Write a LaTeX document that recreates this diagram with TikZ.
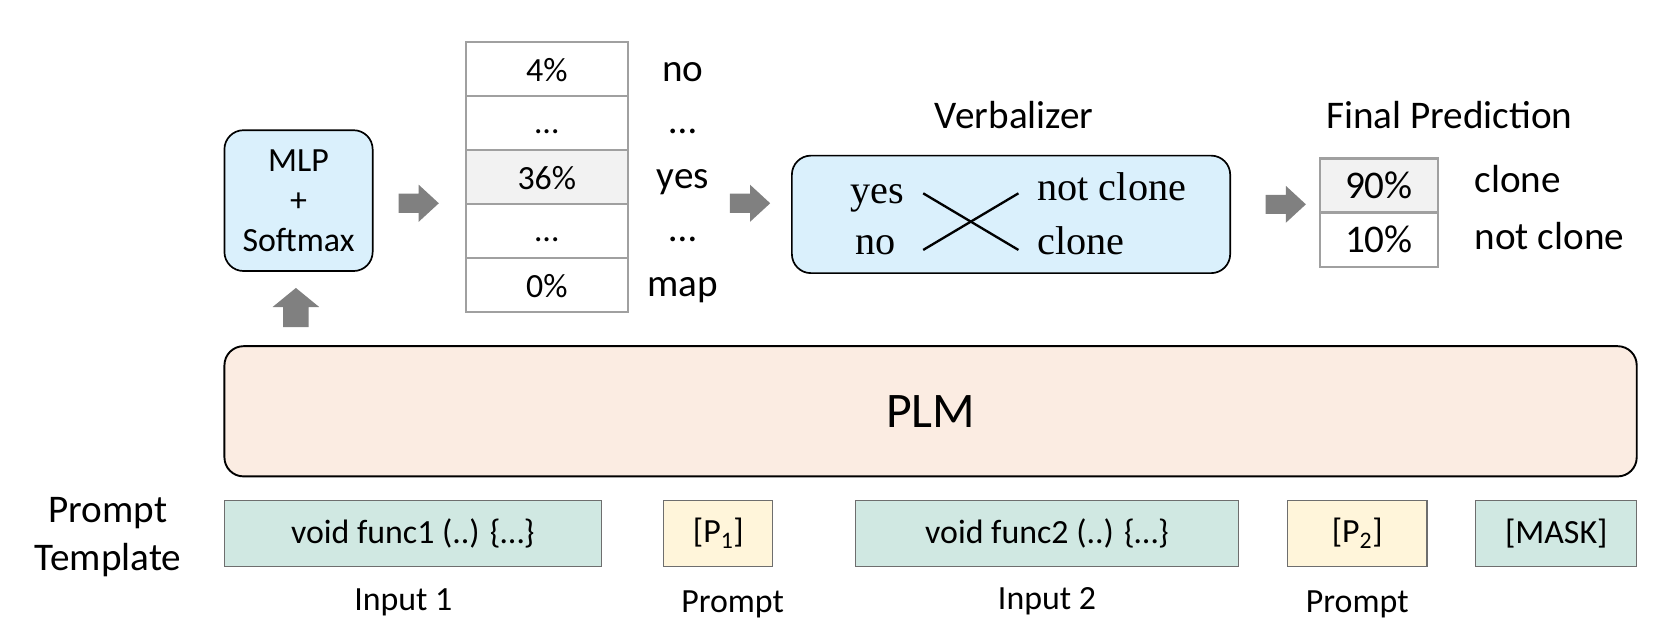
\documentclass[tikz,border=0pt]{standalone}
\usepackage{fontspec}
\setmainfont{Carlito}
\newfontfamily\tnr{Liberation Serif}
\definecolor{lblue}{RGB}{218,240,252}
\definecolor{peach}{RGB}{251,236,226}
\definecolor{tealb}{RGB}{208,232,226}
\definecolor{lyel}{RGB}{255,245,218}
\definecolor{agray}{RGB}{128,128,128}
\definecolor{tgray}{RGB}{160,160,160}
\definecolor{bgray}{RGB}{110,110,110}
\definecolor{cellg}{RGB}{242,242,242}
\newcommand\fS{\fontsize{32}{38}\selectfont}
\newcommand\fL{\fontsize{37}{45}\selectfont}
\newcommand\fV{\tnr\fontsize{38}{45}\selectfont}
\newcommand\rarr[2]{\fill[agray] (#1,#2) ++(0,9) -- ++(19,0) -- ++(0,8.5) -- ++(19,-17.5) -- ++(-19,-17.5) -- ++(0,8.5) -- ++(-19,0) -- cycle;}
\newcommand\uarr[2]{\fill[agray] (#1,#2) -- ++(22,18) -- ++(-10,0) -- ++(0,19) -- ++(-24,0) -- ++(0,-19) -- ++(-10,0) -- cycle;}
\begin{document}
\begin{tikzpicture}[x=1pt,y=-1pt,
  every node/.style={inner sep=0pt,outer sep=0pt},
  rbox/.style={draw,line width=1.6pt,rounded corners=18pt,fill=lblue},
  cell/.style={draw=tgray,line width=2pt,minimum width=153pt,minimum height=51pt,fill=white},
  fcell/.style={draw=tgray,line width=2pt,minimum width=112pt,minimum height=51.5pt,fill=white,font=\fL},
  tok/.style={draw=bgray,line width=1.2pt,minimum height=62pt,font=\fS},
  lab/.style={font=\fL,anchor=base},
  slab/.style={font=\fS,anchor=base},
  xline/.style={line width=2.2pt}]
\useasboundingbox (0,0) rectangle (1568,594);

% Prompt template label
\node[lab] (pr) at (102,494) {Prompt};
\node[lab] (tp) at (102,539) {Template};

% MLP
\node[rbox,minimum width=140pt,minimum height=133pt,font=\fS,align=center] (mlp) at (282,189.5) {MLP\\+\\Softmax};
\uarr{279.5}{272}

% distribution table
\rarr{376.5}{192}
\node[cell] (t1) at (516.5,65.5) {};
\node[cell] (t2) at (516.5,116.5) {};
\node[cell,fill=cellg] (t3) at (516.5,167.5) {};
\node[cell] (t4) at (516.5,218.5) {};
\node[cell] (t5) at (516.5,269.5) {};
\node[slab] (v1) at (516.5,77) {4\%};
\node[slab] (v2) at (516.5,126) {…};
\node[slab] (v3) at (516.5,179) {36\%};
\node[slab] (v4) at (516.5,228) {…};
\node[slab] (v5) at (516.5,281) {0\%};
\node[lab] (w1) at (645,77) {no};
\node[lab] (w2) at (645,126) {…};
\node[lab] (w3) at (645,178) {yes};
\node[lab] (w4) at (645,228) {…};
\node[lab] (w5) at (645,280) {map};

% Verbalizer
\rarr{689.5}{192}
\node[lab] (vt) at (958,121.5) {Verbalizer};
\node[rbox,minimum width=414pt,minimum height=111pt] (vb) at (955,202.5) {};
\node[font=\fV,anchor=base] (vy) at (829,192.5) {yes};
\node[font=\fV,anchor=base] (vn) at (827,240.5) {no};
\node[font=\fV,anchor=base west] (vnc) at (980,189) {not clone};
\node[font=\fV,anchor=base west] (vc) at (980,240.5) {clone};
\coordinate (c1) at (872,182.6);
\coordinate (c2) at (962,236.1);
\coordinate (c3) at (872,236.1);
\coordinate (c4) at (962,182.6);
\draw[xline] (c1) -- (c2);
\draw[xline] (c3) -- (c4);

% Final prediction
\rarr{1195.5}{193}
\node[lab] (ft) at (1369,121.5) {Final Prediction};
\node[fcell,fill=cellg] (f1) at (1302.5,175.5) {90\%};
\node[fcell] (f2) at (1302.5,226.5) {10\%};
\node[font=\fL,anchor=base west] (fc) at (1393,182) {clone};
\node[font=\fL,anchor=base west] (fnc) at (1393,236) {not clone};

% PLM
\node[draw,line width=1.8pt,rounded corners=18pt,fill=peach,minimum width=1334pt,minimum height=123pt,font=\fontsize{47}{56}\selectfont] (plm) at (879,388.5) {PLM};

% tokens
\node[tok,fill=tealb,minimum width=356pt] (in1) at (390,504) {void func1 (..) \{…\}};
\node[tok,fill=lyel,minimum width=103pt] (p1) at (678.5,504) {[P\textsubscript{1}]};
\node[tok,fill=tealb,minimum width=362pt] (in2) at (989,504) {void func2 (..) \{…\}};
\node[tok,fill=lyel,minimum width=132pt] (p2) at (1282,504) {[P\textsubscript{2}]};
\node[tok,fill=tealb,minimum width=152pt] (mk) at (1470,504) {[MASK]};

\node[slab] (l1) at (381,577) {Input 1};
\node[slab] (l2) at (692,579) {Prompt};
\node[slab] (l3) at (989,576) {Input 2};
\node[slab] (l4) at (1282,579) {Prompt};
\end{tikzpicture}
\end{document}
